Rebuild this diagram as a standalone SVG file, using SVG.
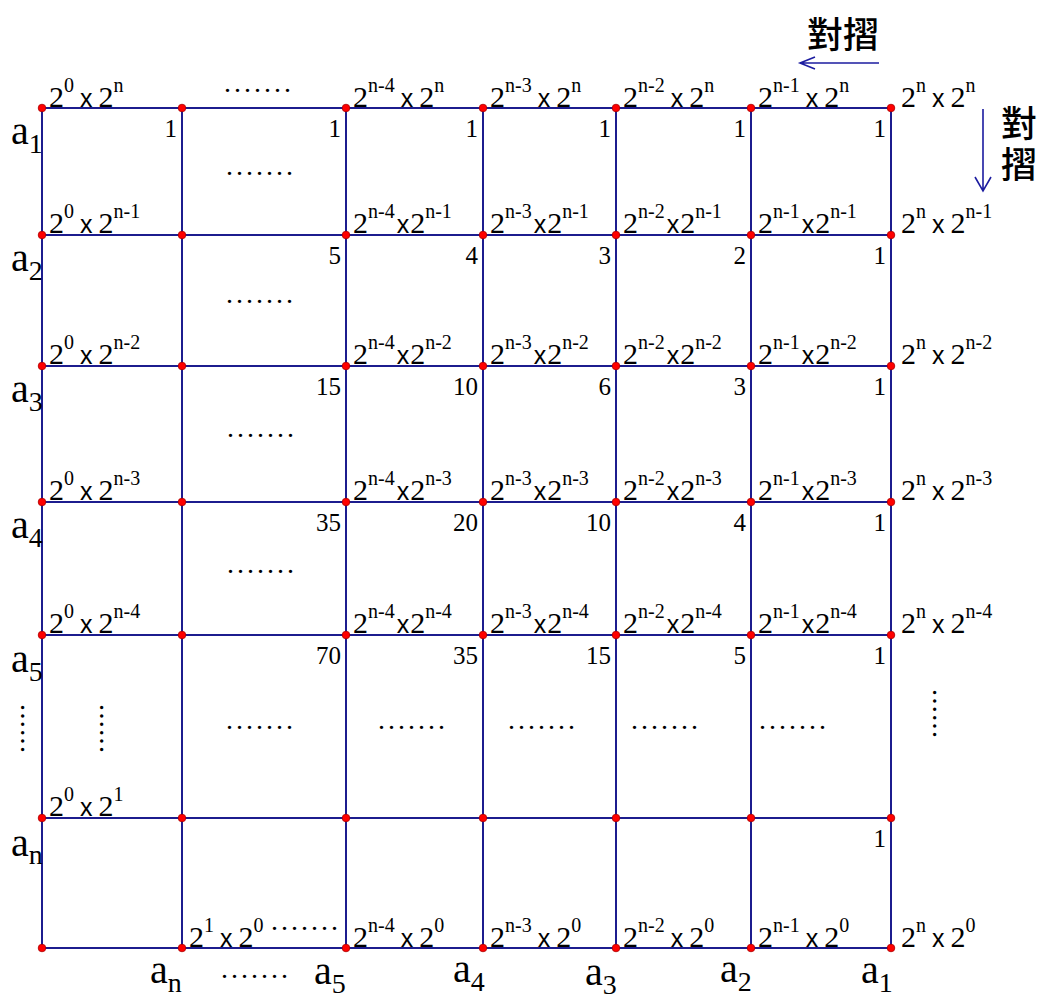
<svg xmlns="http://www.w3.org/2000/svg" width="1048" height="999" viewBox="0 0 1048 999">
<style>
.g{stroke:#1c1c8e;stroke-width:2;fill:none}
.ar{stroke:#1c1ca0;stroke-width:1.6;fill:none}
.d{fill:#f00;stroke:#a00;stroke-width:0.8}
.t{font-family:"Liberation Serif",serif;font-size:30px;fill:#000}
.s{font-size:20px}
.x{font-family:"Liberation Sans",sans-serif;font-size:25px}
.n{font-family:"Liberation Serif",serif;font-size:25px;text-anchor:end;fill:#000}
.a{font-family:"Liberation Serif",serif;font-size:40px;fill:#000}
.sb{font-size:28px}
.dl{font-family:"Liberation Serif",serif;font-size:28px;letter-spacing:3px;fill:#000}
.dv{font-family:"Liberation Serif",serif;font-size:28px;letter-spacing:1.4px;fill:#000}
.c{font-family:"Noto Sans CJK TC","Noto Sans CJK SC",sans-serif;font-size:36px;font-weight:500;fill:#000}
.cv{writing-mode:vertical-rl;letter-spacing:5px}
</style>
<rect width="1048" height="999" fill="#fff"/>
<g id="connectors">
<path class="g" d="M42 108H891M42 235H891M42 366H891M42 502H891M42 635H891M42 818H891M42 948H891"/>
<path class="g" d="M42 108V948M182 108V948M346 108V948M483 108V948M616 108V948M751 108V948M891 108V948"/>
</g>
<g id="fold-arrows">
<path class="ar" d="M879 63H800M815 57L800 63L815 69"/>
<path class="ar" d="M983 109V191M975 177L983 191L991 177"/>
<text class="c" x="807" y="48">對摺</text>
<text class="c cv" x="1019" y="105">對摺</text>
</g>
<g id="nodes">
<circle class="d" cx="42" cy="108" r="3.8"/><circle class="d" cx="182" cy="108" r="3.8"/><circle class="d" cx="346" cy="108" r="3.8"/><circle class="d" cx="483" cy="108" r="3.8"/><circle class="d" cx="616" cy="108" r="3.8"/><circle class="d" cx="751" cy="108" r="3.8"/><circle class="d" cx="891" cy="108" r="3.8"/>
<circle class="d" cx="42" cy="235" r="3.8"/><circle class="d" cx="182" cy="235" r="3.8"/><circle class="d" cx="346" cy="235" r="3.8"/><circle class="d" cx="483" cy="235" r="3.8"/><circle class="d" cx="616" cy="235" r="3.8"/><circle class="d" cx="751" cy="235" r="3.8"/><circle class="d" cx="891" cy="235" r="3.8"/>
<circle class="d" cx="42" cy="366" r="3.8"/><circle class="d" cx="182" cy="366" r="3.8"/><circle class="d" cx="346" cy="366" r="3.8"/><circle class="d" cx="483" cy="366" r="3.8"/><circle class="d" cx="616" cy="366" r="3.8"/><circle class="d" cx="751" cy="366" r="3.8"/><circle class="d" cx="891" cy="366" r="3.8"/>
<circle class="d" cx="42" cy="502" r="3.8"/><circle class="d" cx="182" cy="502" r="3.8"/><circle class="d" cx="346" cy="502" r="3.8"/><circle class="d" cx="483" cy="502" r="3.8"/><circle class="d" cx="616" cy="502" r="3.8"/><circle class="d" cx="751" cy="502" r="3.8"/><circle class="d" cx="891" cy="502" r="3.8"/>
<circle class="d" cx="42" cy="635" r="3.8"/><circle class="d" cx="182" cy="635" r="3.8"/><circle class="d" cx="346" cy="635" r="3.8"/><circle class="d" cx="483" cy="635" r="3.8"/><circle class="d" cx="616" cy="635" r="3.8"/><circle class="d" cx="751" cy="635" r="3.8"/><circle class="d" cx="891" cy="635" r="3.8"/>
<circle class="d" cx="42" cy="818" r="3.8"/><circle class="d" cx="182" cy="818" r="3.8"/><circle class="d" cx="346" cy="818" r="3.8"/><circle class="d" cx="483" cy="818" r="3.8"/><circle class="d" cx="616" cy="818" r="3.8"/><circle class="d" cx="751" cy="818" r="3.8"/><circle class="d" cx="891" cy="818" r="3.8"/>
<circle class="d" cx="42" cy="948" r="3.8"/><circle class="d" cx="182" cy="948" r="3.8"/><circle class="d" cx="346" cy="948" r="3.8"/><circle class="d" cx="483" cy="948" r="3.8"/><circle class="d" cx="616" cy="948" r="3.8"/><circle class="d" cx="751" cy="948" r="3.8"/><circle class="d" cx="891" cy="948" r="3.8"/>
</g>
<g id="point-labels">
<text class="t" x="49" y="107">2<tspan class="s" dy="-15">0</tspan><tspan class="x" dx="6" dy="15">x</tspan><tspan dx="6">2</tspan><tspan class="s" dy="-15">n</tspan></text>
<text class="t" x="353" y="107">2<tspan class="s" dy="-15">n-4</tspan><tspan class="x" dx="6" dy="15">x</tspan><tspan dx="6">2</tspan><tspan class="s" dy="-15">n</tspan></text>
<text class="t" x="490" y="107">2<tspan class="s" dy="-15">n-3</tspan><tspan class="x" dx="6" dy="15">x</tspan><tspan dx="6">2</tspan><tspan class="s" dy="-15">n</tspan></text>
<text class="t" x="623" y="107">2<tspan class="s" dy="-15">n-2</tspan><tspan class="x" dx="6" dy="15">x</tspan><tspan dx="6">2</tspan><tspan class="s" dy="-15">n</tspan></text>
<text class="t" x="758" y="107">2<tspan class="s" dy="-15">n-1</tspan><tspan class="x" dx="6" dy="15">x</tspan><tspan dx="6">2</tspan><tspan class="s" dy="-15">n</tspan></text>
<text class="t" x="901" y="107">2<tspan class="s" dy="-15">n</tspan><tspan class="x" dx="6" dy="15">x</tspan><tspan dx="6">2</tspan><tspan class="s" dy="-15">n</tspan></text>

<text class="t" x="49" y="233">2<tspan class="s" dy="-15">0</tspan><tspan class="x" dx="6" dy="15">x</tspan><tspan dx="6">2</tspan><tspan class="s" dy="-15">n-1</tspan></text>
<text class="t" x="353" y="233">2<tspan class="s" dy="-15">n-4</tspan><tspan class="x" dx="2" dy="15">x</tspan><tspan dx="1">2</tspan><tspan class="s" dy="-15">n-1</tspan></text>
<text class="t" x="490" y="233">2<tspan class="s" dy="-15">n-3</tspan><tspan class="x" dx="2" dy="15">x</tspan><tspan dx="1">2</tspan><tspan class="s" dy="-15">n-1</tspan></text>
<text class="t" x="623" y="233">2<tspan class="s" dy="-15">n-2</tspan><tspan class="x" dx="2" dy="15">x</tspan><tspan dx="1">2</tspan><tspan class="s" dy="-15">n-1</tspan></text>
<text class="t" x="758" y="233">2<tspan class="s" dy="-15">n-1</tspan><tspan class="x" dx="2" dy="15">x</tspan><tspan dx="1">2</tspan><tspan class="s" dy="-15">n-1</tspan></text>
<text class="t" x="901" y="233">2<tspan class="s" dy="-15">n</tspan><tspan class="x" dx="6" dy="15">x</tspan><tspan dx="6">2</tspan><tspan class="s" dy="-15">n-1</tspan></text>

<text class="t" x="49" y="364">2<tspan class="s" dy="-15">0</tspan><tspan class="x" dx="6" dy="15">x</tspan><tspan dx="6">2</tspan><tspan class="s" dy="-15">n-2</tspan></text>
<text class="t" x="353" y="364">2<tspan class="s" dy="-15">n-4</tspan><tspan class="x" dx="2" dy="15">x</tspan><tspan dx="1">2</tspan><tspan class="s" dy="-15">n-2</tspan></text>
<text class="t" x="490" y="364">2<tspan class="s" dy="-15">n-3</tspan><tspan class="x" dx="2" dy="15">x</tspan><tspan dx="1">2</tspan><tspan class="s" dy="-15">n-2</tspan></text>
<text class="t" x="623" y="364">2<tspan class="s" dy="-15">n-2</tspan><tspan class="x" dx="2" dy="15">x</tspan><tspan dx="1">2</tspan><tspan class="s" dy="-15">n-2</tspan></text>
<text class="t" x="758" y="364">2<tspan class="s" dy="-15">n-1</tspan><tspan class="x" dx="2" dy="15">x</tspan><tspan dx="1">2</tspan><tspan class="s" dy="-15">n-2</tspan></text>
<text class="t" x="901" y="364">2<tspan class="s" dy="-15">n</tspan><tspan class="x" dx="6" dy="15">x</tspan><tspan dx="6">2</tspan><tspan class="s" dy="-15">n-2</tspan></text>

<text class="t" x="49" y="500">2<tspan class="s" dy="-15">0</tspan><tspan class="x" dx="6" dy="15">x</tspan><tspan dx="6">2</tspan><tspan class="s" dy="-15">n-3</tspan></text>
<text class="t" x="353" y="500">2<tspan class="s" dy="-15">n-4</tspan><tspan class="x" dx="2" dy="15">x</tspan><tspan dx="1">2</tspan><tspan class="s" dy="-15">n-3</tspan></text>
<text class="t" x="490" y="500">2<tspan class="s" dy="-15">n-3</tspan><tspan class="x" dx="2" dy="15">x</tspan><tspan dx="1">2</tspan><tspan class="s" dy="-15">n-3</tspan></text>
<text class="t" x="623" y="500">2<tspan class="s" dy="-15">n-2</tspan><tspan class="x" dx="2" dy="15">x</tspan><tspan dx="1">2</tspan><tspan class="s" dy="-15">n-3</tspan></text>
<text class="t" x="758" y="500">2<tspan class="s" dy="-15">n-1</tspan><tspan class="x" dx="2" dy="15">x</tspan><tspan dx="1">2</tspan><tspan class="s" dy="-15">n-3</tspan></text>
<text class="t" x="901" y="500">2<tspan class="s" dy="-15">n</tspan><tspan class="x" dx="6" dy="15">x</tspan><tspan dx="6">2</tspan><tspan class="s" dy="-15">n-3</tspan></text>

<text class="t" x="49" y="633">2<tspan class="s" dy="-15">0</tspan><tspan class="x" dx="6" dy="15">x</tspan><tspan dx="6">2</tspan><tspan class="s" dy="-15">n-4</tspan></text>
<text class="t" x="353" y="633">2<tspan class="s" dy="-15">n-4</tspan><tspan class="x" dx="2" dy="15">x</tspan><tspan dx="1">2</tspan><tspan class="s" dy="-15">n-4</tspan></text>
<text class="t" x="490" y="633">2<tspan class="s" dy="-15">n-3</tspan><tspan class="x" dx="2" dy="15">x</tspan><tspan dx="1">2</tspan><tspan class="s" dy="-15">n-4</tspan></text>
<text class="t" x="623" y="633">2<tspan class="s" dy="-15">n-2</tspan><tspan class="x" dx="2" dy="15">x</tspan><tspan dx="1">2</tspan><tspan class="s" dy="-15">n-4</tspan></text>
<text class="t" x="758" y="633">2<tspan class="s" dy="-15">n-1</tspan><tspan class="x" dx="2" dy="15">x</tspan><tspan dx="1">2</tspan><tspan class="s" dy="-15">n-4</tspan></text>
<text class="t" x="901" y="633">2<tspan class="s" dy="-15">n</tspan><tspan class="x" dx="6" dy="15">x</tspan><tspan dx="6">2</tspan><tspan class="s" dy="-15">n-4</tspan></text>

<text class="t" x="49" y="816">2<tspan class="s" dy="-15">0</tspan><tspan class="x" dx="6" dy="15">x</tspan><tspan dx="6">2</tspan><tspan class="s" dy="-15">1</tspan></text>

<text class="t" x="189" y="947">2<tspan class="s" dy="-15">1</tspan><tspan class="x" dx="6" dy="15">x</tspan><tspan dx="6">2</tspan><tspan class="s" dy="-15">0</tspan></text>
<text class="t" x="353" y="947">2<tspan class="s" dy="-15">n-4</tspan><tspan class="x" dx="6" dy="15">x</tspan><tspan dx="6">2</tspan><tspan class="s" dy="-15">0</tspan></text>
<text class="t" x="490" y="947">2<tspan class="s" dy="-15">n-3</tspan><tspan class="x" dx="6" dy="15">x</tspan><tspan dx="6">2</tspan><tspan class="s" dy="-15">0</tspan></text>
<text class="t" x="623" y="947">2<tspan class="s" dy="-15">n-2</tspan><tspan class="x" dx="6" dy="15">x</tspan><tspan dx="6">2</tspan><tspan class="s" dy="-15">0</tspan></text>
<text class="t" x="758" y="947">2<tspan class="s" dy="-15">n-1</tspan><tspan class="x" dx="6" dy="15">x</tspan><tspan dx="6">2</tspan><tspan class="s" dy="-15">0</tspan></text>
<text class="t" x="901" y="947">2<tspan class="s" dy="-15">n</tspan><tspan class="x" dx="6" dy="15">x</tspan><tspan dx="6">2</tspan><tspan class="s" dy="-15">0</tspan></text>
</g>
<g id="cell-values">
<text class="n" x="177" y="137">1</text><text class="n" x="341" y="137">1</text><text class="n" x="478" y="137">1</text><text class="n" x="611" y="137">1</text><text class="n" x="746" y="137">1</text><text class="n" x="886" y="137">1</text>
<text class="n" x="341" y="264">5</text><text class="n" x="478" y="264">4</text><text class="n" x="611" y="264">3</text><text class="n" x="746" y="264">2</text><text class="n" x="886" y="264">1</text>
<text class="n" x="341" y="395">15</text><text class="n" x="478" y="395">10</text><text class="n" x="611" y="395">6</text><text class="n" x="746" y="395">3</text><text class="n" x="886" y="395">1</text>
<text class="n" x="341" y="531">35</text><text class="n" x="478" y="531">20</text><text class="n" x="611" y="531">10</text><text class="n" x="746" y="531">4</text><text class="n" x="886" y="531">1</text>
<text class="n" x="341" y="664">70</text><text class="n" x="478" y="664">35</text><text class="n" x="611" y="664">15</text><text class="n" x="746" y="664">5</text><text class="n" x="886" y="664">1</text>
<text class="n" x="886" y="847">1</text>
</g>
<g id="ellipses">
<text class="dl" x="224" y="92">.......</text>
<text class="dl" x="226" y="175">.......</text>
<text class="dl" x="226" y="303">.......</text>
<text class="dl" x="227" y="437">.......</text>
<text class="dl" x="227" y="573">.......</text>
<text class="dl" x="226" y="729">.......</text>
<text class="dl" x="378" y="729">.......</text>
<text class="dl" x="508" y="729">.......</text>
<text class="dl" x="631" y="729">.......</text>
<text class="dl" x="759" y="729">.......</text>
<text class="dl" x="271" y="930">.......</text>
<text class="dl" x="221" y="978">.......</text>
<text class="dv" transform="translate(21,704) rotate(90)">......</text>
<text class="dv" transform="translate(100,704) rotate(90)">......</text>
<text class="dv" transform="translate(933,689) rotate(90)">......</text>
</g>
<g id="axis-labels">
<text class="a" x="11" y="144">a<tspan class="sb" dy="9">1</tspan></text>
<text class="a" x="11" y="271">a<tspan class="sb" dy="9">2</tspan></text>
<text class="a" x="11" y="402">a<tspan class="sb" dy="9">3</tspan></text>
<text class="a" x="11" y="538">a<tspan class="sb" dy="9">4</tspan></text>
<text class="a" x="11" y="672">a<tspan class="sb" dy="9">5</tspan></text>
<text class="a" x="11" y="856">a<tspan class="sb" dy="8">n</tspan></text>
<text class="a" x="150" y="983">a<tspan class="sb" dy="9">n</tspan></text>
<text class="a" x="314" y="984">a<tspan class="sb" dy="9">5</tspan></text>
<text class="a" x="453" y="982">a<tspan class="sb" dy="9">4</tspan></text>
<text class="a" x="585" y="985">a<tspan class="sb" dy="9">3</tspan></text>
<text class="a" x="720" y="982">a<tspan class="sb" dy="9">2</tspan></text>
<text class="a" x="861" y="983">a<tspan class="sb" dy="9">1</tspan></text>
</g>
</svg>
